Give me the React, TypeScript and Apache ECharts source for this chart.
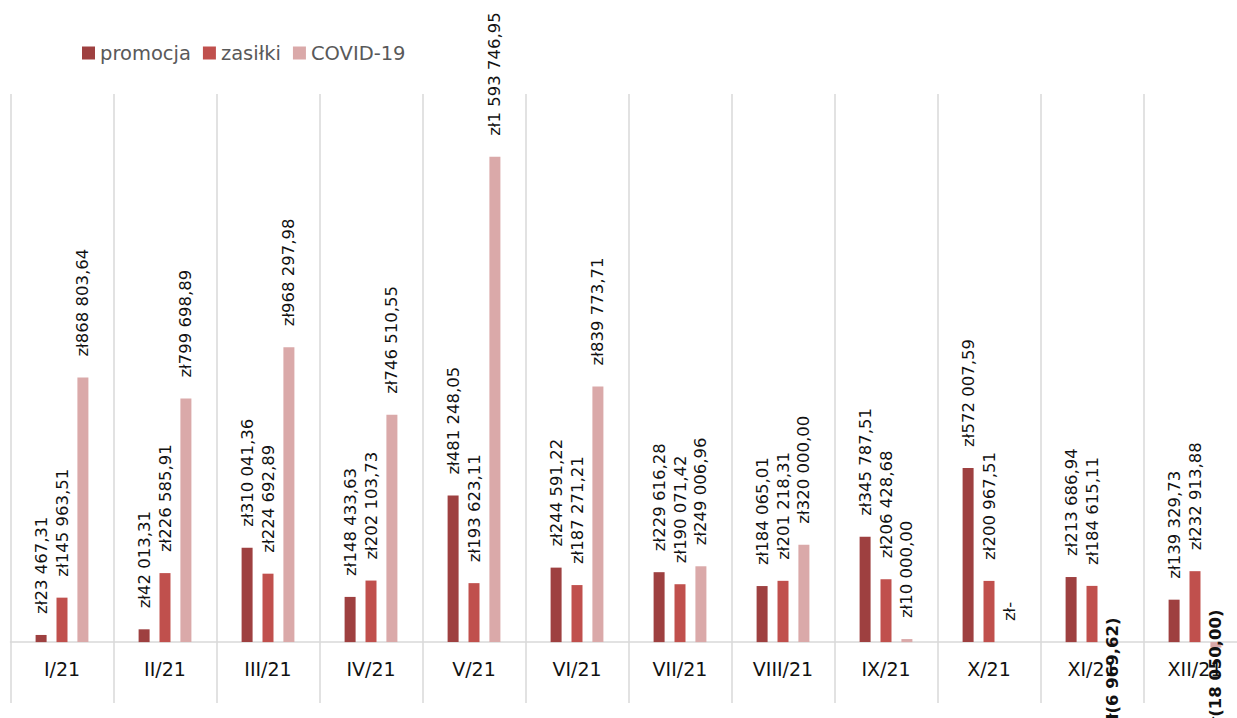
import React, { useEffect, useRef } from "react";
import * as echarts from "echarts";

const categories = ["I/21", "II/21", "III/21", "IV/21", "V/21", "VI/21", "VII/21", "VIII/21", "IX/21", "X/21", "XI/21", "XII/21"];
const seriesNames = ["promocja", "zasiłki", "COVID-19"];
const promocja = [23467.31, 42013.31, 310041.36, 148433.63, 481248.05, 244591.22, 229616.28, 184065.01, 345787.51, 572007.59, 213686.94, 139329.73];
const zasilki = [145963.51, 226585.91, 224692.89, 202103.73, 193623.11, 187271.21, 190071.42, 201218.31, 206428.68, 200967.51, 184615.11, 232913.88];
const covid = [868803.64, 799698.89, 968297.98, 746510.55, 1593746.95, 839773.71, 249006.96, 320000.0, 10000.0, 0, -6969.62, -18050.0];
const colors = ["#9E4040", "#C0504D", "#DAA9A9"];

function fmt(v: number): string {
  if (v === 0) return "zł-";
  const [i, d] = Math.abs(v).toFixed(2).split(".");
  const s = i.replace(/\B(?=(\d{3})+(?!\d))/g, " ") + "," + d;
  return v < 0 ? `zł(${s})` : `zł${s}`;
}

function toData(arr: number[]) {
  return arr.map((v) =>
    v < 0
      ? { value: v, label: { position: "bottom", distance: 85, fontWeight: "bold" } }
      : { value: v }
  );
}

export default function App() {
  const ref = useRef<HTMLDivElement>(null);
  useEffect(() => {
    if (!ref.current) return;
    const chart = echarts.init(ref.current, undefined, { renderer: "svg" });
    const all = [promocja, zasilki, covid];
    chart.setOption({
      animation: false,
      legend: {
        data: seriesNames,
        left: 77,
        top: 38,
        icon: "rect",
        itemWidth: 13,
        itemHeight: 13,
        itemGap: 12,
        textStyle: { fontFamily: "DejaVu Sans", fontSize: 19.5, color: "#595959" },
      },
      grid: { left: 10.5, right: -9.5, top: 94, bottom: 15, containLabel: false, outerBoundsMode: "none" },
      xAxis: {
        type: "category",
        data: categories,
        axisLine: { onZero: true, lineStyle: { color: "#d9d9d9", width: 1.5 } },
        axisTick: { show: false },
        splitLine: { show: true, lineStyle: { color: "#d9d9d9", width: 1.5 } },
        axisLabel: { fontFamily: "DejaVu Sans", fontSize: 19, color: "#111", margin: -44 },
      },
      yAxis: {
        type: "value",
        min: -200000,
        max: 1800000,
        show: false,
        splitLine: { show: false },
      },
      series: seriesNames.map((name, k) => ({
        name,
        type: "bar",
        barWidth: 11,
        barGap: "90%",
        itemStyle: { color: colors[k] },
        data: toData(all[k]),
        label: {
          show: true,
          position: "top",
          distance: 21,
          rotate: 90,
          align: "left",
          verticalAlign: "middle",
          fontFamily: "DejaVu Sans",
          fontSize: 16.5,
          color: "#111",
          formatter: (p: any) => fmt(p.value),
        },
      })),
    });
    return () => chart.dispose();
  }, []);
  return <div ref={ref} style={{ position: "absolute", left: 0, top: 0, width: 1237, height: 718 }} />;
}
